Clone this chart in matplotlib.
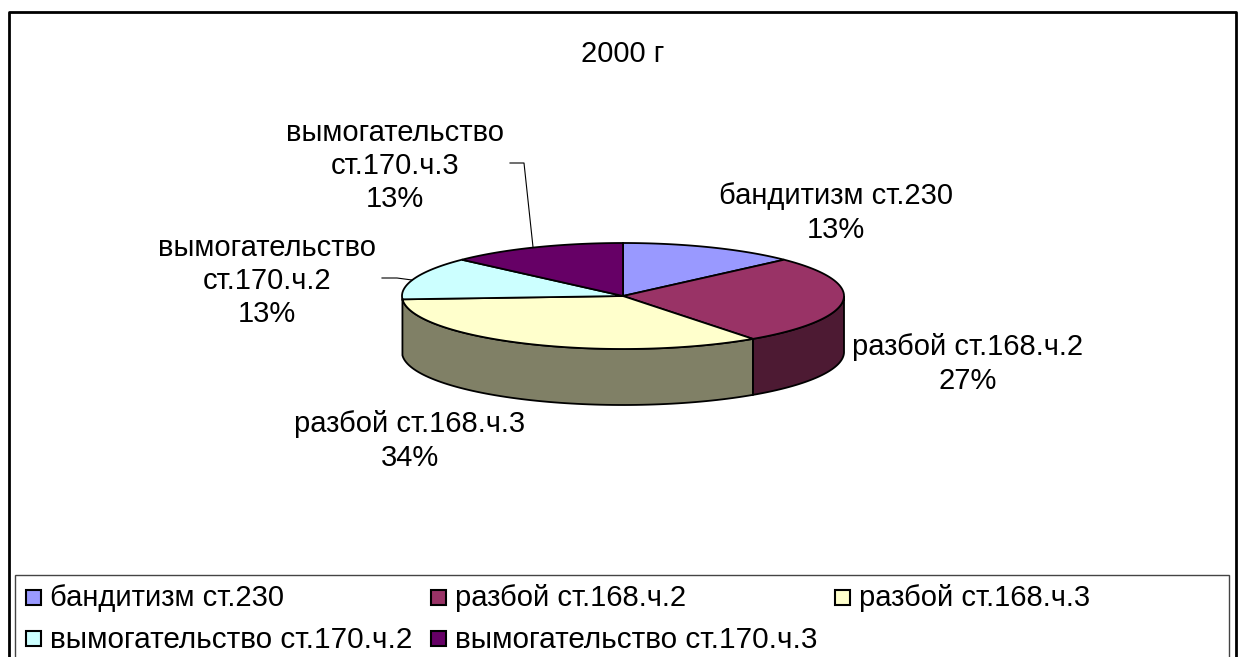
import numpy as np
from matplotlib import pyplot as plt
from matplotlib.patches import Polygon, Rectangle

categories = ["бандитизм ст.230", "разбой ст.168.ч.2", "разбой ст.168.ч.3",
              "вымогательство ст.170.ч.2", "вымогательство ст.170.ч.3"]
values = [13, 27, 34, 13, 13]
percent_labels = ["13%", "27%", "34%", "13%", "13%"]
top_colors = ["#9999FF", "#993366", "#FFFFCC", "#CCFFFF", "#660066"]
side_colors = ["#4D4D80", "#4D1A33", "#808066", "#668080", "#330033"]

W, H = 1240, 657
plt.rcParams['font.family'] = ['Liberation Sans', 'DejaVu Sans']
FS = 21

fig = plt.figure(figsize=(W / 100, H / 100), dpi=100)
ax = fig.add_axes([0, 0, 1, 1])
ax.set_xlim(0, W)
ax.set_ylim(H, 0)
ax.axis('off')

# outer frame, open at the bottom
ax.plot([9, 9, 1236, 1236], [657, 12, 12, 657], color='black', lw=2)

cx, cy, rx, ry, depth = 623, 296, 221, 53, 56


def rim(a0, a1):
    # angles clockwise from 12 o'clock, in degrees
    t = np.radians(np.linspace(a0, a1, 80))
    return np.column_stack([cx + rx * np.sin(t), cy - ry * np.cos(t)])


edges = np.cumsum([0] + values) / sum(values) * 360

# side wall
for i in [1, 2]:
    a0 = max(edges[i], 90)
    a1 = min(edges[i + 1], 270)
    top = rim(a0, a1)
    wall = np.vstack([top, top[::-1] + [0, depth]])
    ax.add_patch(Polygon(wall, closed=True, fc=side_colors[i], ec='black', lw=1.3))

# top slices
for i in range(len(values)):
    pts = np.vstack([[cx, cy], rim(edges[i], edges[i + 1])])
    ax.add_patch(Polygon(pts, closed=True, fc=top_colors[i], ec='black', lw=1.3))

ax.text(623, 54, "2000 г", fontsize=FS, ha='center', va='center')

label_pos = [(836, 213), (968, 364), (410, 441), (267, 281), (395, 166)]
label_lines = [["бандитизм ст.230"], ["разбой ст.168.ч.2"], ["разбой ст.168.ч.3"],
               ["вымогательство", "ст.170.ч.2"], ["вымогательство", "ст.170.ч.3"]]
for (x, y), lines, pct in zip(label_pos, label_lines, percent_labels):
    ax.text(x, y, "\n".join(lines + [pct]), fontsize=FS, ha='center', va='center',
            linespacing=1.24)

# leader lines
ax.plot([382, 397, 412], [278, 278, 280], color='black', lw=0.8)
ax.plot([510, 524, 533], [163, 163, 247], color='black', lw=0.8)

# legend box
ax.add_patch(Rectangle((14.5, 575), 1214.5, 85, fc='white', ec='#444444', lw=1))
legend_pos = [(25, 597.5), (430, 597.5), (834, 597.5), (25, 638), (430, 638)]
legend_sizes = [FS, FS, FS, FS + 0.4, FS + 0.4]
text_shift = [0, 0, 0, 2, 2]
for (x, y), name, col, fs, dy in zip(legend_pos, categories, top_colors, legend_sizes, text_shift):
    ax.add_patch(Rectangle((x + 1, y - 7.5), 15, 15, fc=col, ec='black', lw=1.5))
    ax.text(x + 25, y + dy, name, fontsize=fs, ha='left', va='center')

fig.savefig("out.png", dpi=100)
